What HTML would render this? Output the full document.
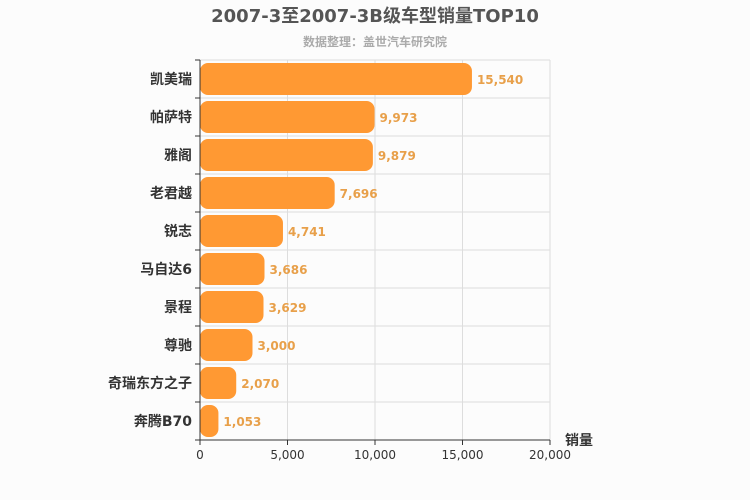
<!DOCTYPE html>
<html><head><meta charset="utf-8"><style>
body{margin:0;background:#fcfcfc;}
svg{display:block;font-family:"DejaVu Sans","Liberation Sans","Noto Sans CJK SC",sans-serif;}
</style></head><body>
<svg id="c" width="750" height="500">
<rect width="750" height="500" fill="#fcfcfc"/>
<text x="375" y="22" text-anchor="middle" font-size="18" font-weight="bold" fill="#555">2007-3至2007-3B级车型销量TOP10</text>
<text x="375" y="46" text-anchor="middle" font-size="12" font-weight="bold" fill="#aaa">数据整理：盖世汽车研究院</text>
<g id="grid"></g><g id="bars"></g><g id="axes"></g>
<text x="565" y="445" font-size="14" font-weight="bold" fill="#333">销量</text>
</svg>
<script>
const categories=["凯美瑞","帕萨特","雅阁","老君越","锐志","马自达6","景程","尊驰","奇瑞东方之子","奔腾B70"];
const values=[15540,9973,9879,7696,4741,3686,3629,3000,2070,1053];
const tickValues=[0,5000,10000,15000,20000];
const tickLabels=["0","5,000","10,000","15,000","20,000"];
const X0=200,X1=550,Y0=60,Y1=440,MAX=20000;
const x=v=>X0+(v/MAX)*(X1-X0);
const rowH=(Y1-Y0)/categories.length;
const y=i=>Y0+i*rowH;
const NS="http://www.w3.org/2000/svg";
function mk(t,a,p){const e=document.createElementNS(NS,t);for(const k in a)e.setAttribute(k,a[k]);p.appendChild(e);return e;}
const g=document.getElementById('grid'),b=document.getElementById('bars'),ax=document.getElementById('axes');
tickValues.forEach((v,i)=>{
 if(i>0){const l=mk('line',{x1:x(v),x2:x(v),y1:Y0,y2:Y1,stroke:'#ddd'},g);
 
 }
 const t=mk('line',{x1:x(v),x2:x(v),y1:Y1,y2:Y1+5,stroke:'#333'},ax);
 
 
 const tx=mk('text',{x:x(v),y:Y1+19,'text-anchor':'middle','font-size':12,fill:'#333'},ax);
 tx.textContent=tickLabels[i];
 
 
});
for(let i=0;i<=categories.length;i++){
 if(i<categories.length){const l=mk('line',{x1:X0,x2:X1,y1:y(i),y2:y(i),stroke:'#ddd'},g);
 
 }
 const t=mk('line',{x1:X0-5,x2:X0,y1:y(i),y2:y(i),stroke:'#333'},ax);
 
 
}
categories.forEach((c,i)=>{
 const w=x(values[i])-X0;
 const r=mk('rect',{x:X0,y:y(i)+3,width:w,height:rowH-6,rx:Math.min(8,w/2),fill:'#ff9933'},b);
 
 
 const vt=mk('text',{x:x(values[i])+5,y:y(i)+rowH/2+5,'font-size':12,'font-weight':'bold',fill:'#e8a04a'},b);
 vt.textContent=values[i].toLocaleString('en-US');
 
 
 const ct=mk('text',{x:X0-8,y:y(i)+rowH/2+5,'text-anchor':'end','font-size':14,'font-weight':'bold',fill:'#333'},ax);
 ct.textContent=c;
 
 
});
const la=mk('line',{x1:X0,x2:X0,y1:Y0,y2:Y1,stroke:'#333'},ax);


const lb=mk('line',{x1:X0,x2:X1,y1:Y1,y2:Y1,stroke:'#333'},ax);


</script>
</body></html>
